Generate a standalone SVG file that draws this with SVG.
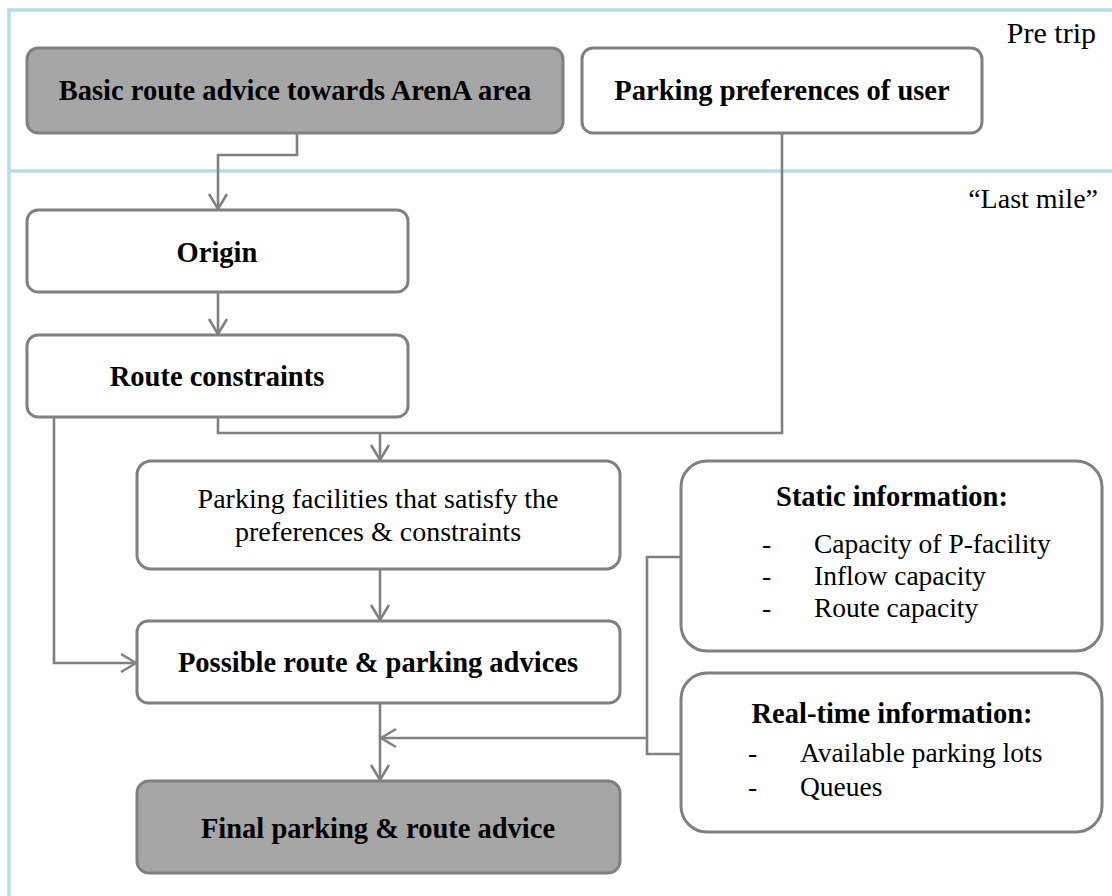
<svg xmlns="http://www.w3.org/2000/svg" width="1112" height="896" viewBox="0 0 1112 896">
<defs>
<style>
.frame{fill:none;stroke:#b7dde8;stroke-width:3.5}
.box{fill:#ffffff;stroke:#808080;stroke-width:3}
.dark{fill:#a6a6a6;stroke:#808080;stroke-width:3}
.con{fill:none;stroke:#808080;stroke-width:2.6}
.b{font-family:"Liberation Serif",serif;font-weight:bold;font-size:28.5px;fill:#000;text-anchor:middle}
.r{font-family:"Liberation Serif",serif;font-size:27.5px;fill:#000}
.rc{font-family:"Liberation Serif",serif;font-size:28px;fill:#000;text-anchor:middle}
.re{font-family:"Liberation Serif",serif;font-size:28px;fill:#000;text-anchor:end}
</style>
<marker id="arr" markerUnits="userSpaceOnUse" viewBox="-16 -11 18 22" refX="0" refY="0" markerWidth="18" markerHeight="22" orient="auto">
<path d="M-15,-9 L0,0 L-15,9" fill="none" stroke="#808080" stroke-width="2.6"/>
</marker>
</defs>
<rect width="1112" height="896" fill="#ffffff"/>
<g id="frame">
<path class="frame" d="M9,896 V10 H1112"/>
<path class="frame" d="M9,171 H1112"/>
<text class="re" x="1096" y="43" style="font-size:30px">Pre trip</text>
<text class="re" x="1098" y="208">“Last mile”</text>
</g>
<g id="connectors">
<path class="con" d="M297,133 V155 H218 V209" marker-end="url(#arr)"/>
<path class="con" d="M218,292 V334" marker-end="url(#arr)"/>
<path class="con" d="M218,417 V433 H782 V133"/>
<path class="con" d="M380,433 V460" marker-end="url(#arr)"/>
<path class="con" d="M54,417 V663 H136" marker-end="url(#arr)"/>
<path class="con" d="M380,569 V620" marker-end="url(#arr)"/>
<path class="con" d="M380,703 V780" marker-end="url(#arr)"/>
<path class="con" d="M681,557 H647 V754 H681"/>
<path class="con" d="M647,738 H381" marker-end="url(#arr)"/>
</g>
<g id="basic">
<rect class="dark" x="27" y="48" width="536" height="85" rx="11"/>
<text class="b" x="295" y="100">Basic route advice towards ArenA area</text>
</g>
<g id="preferences">
<rect class="box" x="582" y="48" width="400" height="85" rx="11"/>
<text class="b" x="782" y="100">Parking preferences of user</text>
</g>
<g id="origin">
<rect class="box" x="27" y="210" width="381" height="82" rx="11"/>
<text class="b" x="217" y="262">Origin</text>
</g>
<g id="route">
<rect class="box" x="27" y="335" width="381" height="82" rx="11"/>
<text class="b" x="217" y="386">Route constraints</text>
</g>
<g id="facilities">
<rect class="box" x="137" y="461" width="483" height="108" rx="14"/>
<text class="rc" x="378" y="508">Parking facilities that satisfy the</text>
<text class="rc" x="378" y="541">preferences &amp; constraints</text>
</g>
<g id="possible">
<rect class="box" x="137" y="621" width="483" height="82" rx="11"/>
<text class="b" x="378" y="672">Possible route &amp; parking advices</text>
</g>
<g id="final">
<rect class="dark" x="137" y="781" width="483" height="92" rx="12"/>
<text class="b" x="378" y="838">Final parking &amp; route advice</text>
</g>
<g id="static">
<rect class="box" x="681" y="461" width="421" height="190" rx="26"/>
<text class="b" x="892" y="506">Static information:</text>
<text class="r" x="762" y="553">-</text>
<text class="r" x="814" y="553">Capacity of P-facility</text>
<text class="r" x="762" y="585">-</text>
<text class="r" x="814" y="585">Inflow capacity</text>
<text class="r" x="762" y="617">-</text>
<text class="r" x="814" y="617">Route capacity</text>
</g>
<g id="realtime">
<rect class="box" x="681" y="673" width="421" height="159" rx="26"/>
<text class="b" x="892" y="723">Real-time information:</text>
<text class="r" x="748" y="762">-</text>
<text class="r" x="800" y="762">Available parking lots</text>
<text class="r" x="748" y="796">-</text>
<text class="r" x="800" y="796">Queues</text>
</g>
</svg>
